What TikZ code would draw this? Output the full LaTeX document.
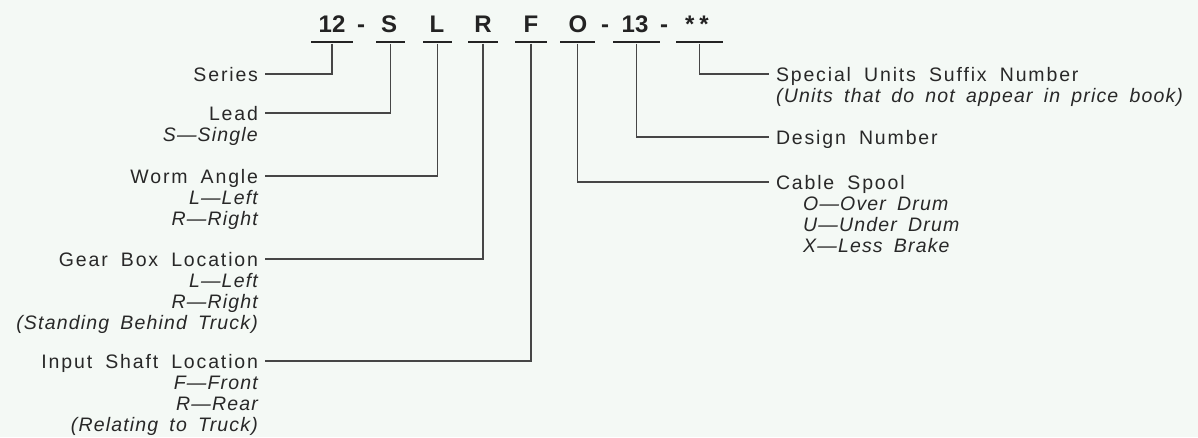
\documentclass[tikz,border=0pt]{standalone}
\usepackage{fontspec}
\setmainfont{Liberation Sans}[LetterSpace=6, WordSpace=1.7]
\newfontfamily\ttlfont{Liberation Sans}[LetterSpace=9.5, WordSpace=1.8]
\newfontfamily\headfont{Liberation Sans}[WordSpace=1.0]
\definecolor{bg}{RGB}{244,249,245}
\definecolor{txt}{RGB}{40,40,40}
\definecolor{ink}{RGB}{35,35,35}
\definecolor{lin}{RGB}{70,70,70}
\tikzset{
  ttl/.style={font=\ttlfont\fontsize{19.5}{21}\selectfont, text=txt, inner sep=0pt, outer xsep=7pt, text height=14pt, text depth=0pt},
  subl/.style={font=\fontsize{19.5}{21}\selectfont\itshape, text=txt, inner sep=0pt, anchor=base east},
  subr/.style={font=\fontsize{19.5}{21}\selectfont\itshape, text=txt, inner sep=0pt, anchor=base west},
  hd/.style={font=\headfont\fontsize{24}{24}\selectfont\bfseries, text=ink, inner sep=0pt, anchor=base},
  ul/.style={fill=ink, inner sep=0pt, minimum height=2.6pt},
  conn/.style={draw=lin, line width=1.1pt}
}
\begin{document}
\begin{tikzpicture}[x=1pt,y=-1pt]
\path[fill=bg] (0,0) rectangle (1198,437);
\useasboundingbox (0,0) rectangle (1198,437);
% heading
\node[hd] (h1) at (332,32) {12};
\node[hd] (d1) at (361,32) {-};
\node[hd] (h2) at (389,32) {S};
\node[hd] (h3) at (437,32) {L};
\node[hd] (h4) at (483,32) {R};
\node[hd] (h5) at (531,32) {F};
\node[hd] (h6) at (578,32) {O};
\node[hd] (d2) at (605,32) {-};
\node[hd] (h7) at (635,32) {13};
\node[hd] (d3) at (664,32) {-};
\node[hd] (h8) at (697,32) {*\hspace{5pt}*};
% underlines
\node[ul, minimum width=42pt] (u1) at (332,42) {};
\node[ul, minimum width=29pt] (u2) at (390.5,42) {};
\node[ul, minimum width=29pt] (u3) at (437.5,42) {};
\node[ul, minimum width=30pt] (u4) at (483,42) {};
\node[ul, minimum width=32pt] (u5) at (531,42) {};
\node[ul, minimum width=35pt] (u6) at (577.5,42) {};
\node[ul, minimum width=47pt] (u7) at (636.5,42) {};
\node[ul, minimum width=47pt] (u8) at (699.5,42) {};
% left labels
\node[ttl, anchor=base east] (series) at (265,81) {Series};
\node[ttl, anchor=base east] (lead) at (265,120) {Lead};
\node[subl] (lead1) at (258,141) {S—Single};
\node[ttl, anchor=base east] (worm) at (265,183) {Worm Angle};
\node[subl] (worm1) at (258,204) {L—Left};
\node[subl] (worm2) at (258,225) {R—Right};
\node[ttl, anchor=base east] (gear) at (265,266) {Gear Box Location};
\node[subl] (gear1) at (258,287) {L—Left};
\node[subl] (gear2) at (258,308) {R—Right};
\node[subl] (gear3) at (258,329) {(Standing Behind Truck)};
\node[ttl, anchor=base east] (input) at (265,368) {Input Shaft Location};
\node[subl] (input1) at (258,389) {F—Front};
\node[subl] (input2) at (258,410) {R—Rear};
\node[subl] (input3) at (258,431) {(Relating to Truck)};
% right labels
\node[ttl, anchor=base west] (special) at (769,81) {Special Units Suffix Number};
\node[subr] (special1) at (776,102) {(Units that do not appear in price book)};
\node[ttl, anchor=base west] (design) at (769,144) {Design Number};
\node[ttl, anchor=base west] (cable) at (769,189) {Cable Spool};
\node[subr] (cable1) at (803,210) {O—Over Drum};
\node[subr] (cable2) at (803,231) {U—Under Drum};
\node[subr] (cable3) at (803,252) {X—Less Brake};
% connectors
\draw[conn] (u1.south) |- (series.east);
\draw[conn] (u2.south) |- (lead.east);
\draw[conn] (u3.south) |- (worm.east);
\draw[conn] (u4.south) |- (gear.east);
\draw[conn] (u5.south) |- (input.east);
\draw[conn] (u6.south) |- (cable.west);
\draw[conn] (u7.south) |- (design.west);
\draw[conn] (u8.south) |- (special.west);
\end{tikzpicture}
\end{document}
